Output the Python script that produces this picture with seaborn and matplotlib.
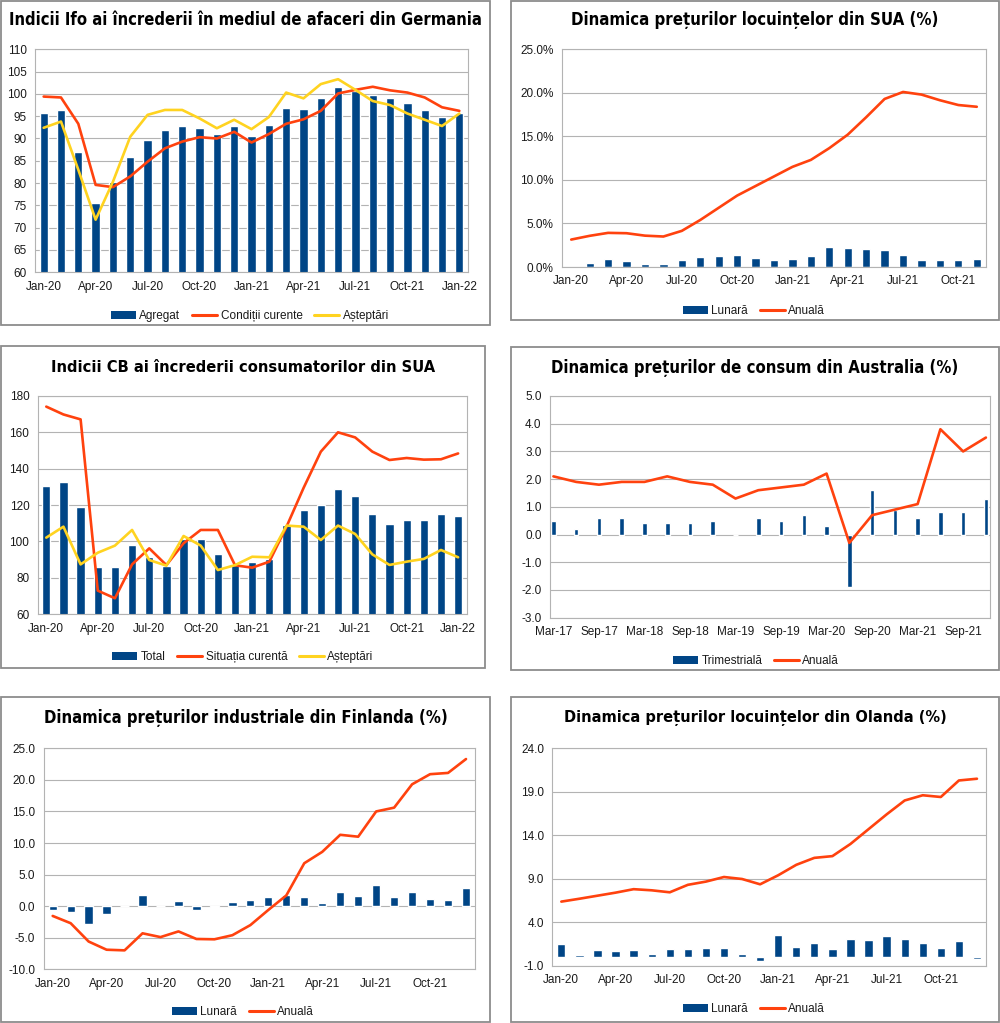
import numpy as np
import pandas as pd
import matplotlib
matplotlib.use("Agg")
import matplotlib.pyplot as plt
from matplotlib import font_manager as fm
from matplotlib.patches import Rectangle, Patch
from matplotlib.lines import Line2D
import seaborn as sns

# culorile implicite din LibreOffice
ALBASTRU = "#004586"
ROSU = "#ff420e"
GALBEN = "#ffd320"
GRI = "#b3b3b3"

# 1. Ifo Germania (Jan-20 .. Jan-22)
ifo_etichete = ["Jan-20", "Apr-20", "Jul-20", "Oct-20", "Jan-21", "Apr-21", "Jul-21", "Oct-21", "Jan-22"]
ifo_agregat = [95.8, 96.4, 86.9, 75.6, 80.2, 85.8, 89.6, 91.8, 92.7, 92.4, 90.9, 92.7,
               90.5, 93.1, 96.8, 96.7, 99.1, 101.6, 100.6, 99.7, 99.0, 97.9, 96.5, 94.8, 95.7]
ifo_conditii = [99.4, 99.2, 93.3, 79.6, 79.1, 81.5, 84.8, 87.8, 89.3, 90.3, 90.0, 91.5,
                89.1, 91.0, 93.3, 94.3, 96.2, 100.1, 100.9, 101.6, 100.8, 100.3, 99.2, 97.0, 96.2]
ifo_asteptari = [92.4, 93.8, 83.0, 71.8, 80.3, 90.4, 95.3, 96.4, 96.4, 94.5, 92.3, 94.2,
                 92.1, 94.8, 100.3, 99.0, 102.2, 103.3, 100.9, 98.4, 97.5, 95.6, 94.2, 92.8, 95.6]

# 2. Preturile locuintelor SUA (Jan-20 .. Nov-21)
sua_etichete = ["Jan-20", "Apr-20", "Jul-20", "Oct-20", "Jan-21", "Apr-21", "Jul-21", "Oct-21"]
sua_lunara = [np.nan, 0.46, 0.96, 0.73, 0.30, 0.30, 0.77, 1.15, 1.27, 1.35, 1.08, 0.85,
              0.88, 1.27, 2.27, 2.23, 2.10, 1.96, 1.42, 0.85, 0.80, 0.77, 0.96]
sua_anuala = [3.15, 3.58, 3.92, 3.88, 3.60, 3.50, 4.15, 5.40, 6.80, 8.20, 9.30, 10.40,
              11.50, 12.30, 13.65, 15.20, 17.20, 19.30, 20.10, 19.80, 19.15, 18.60, 18.40]

# 3. Conference Board SUA (Jan-20 .. Jan-22)
cb_etichete = ifo_etichete
cb_total = [130.4, 132.6, 118.8, 85.7, 85.9, 98.3, 91.7, 86.3, 101.3, 101.4, 92.9, 87.1,
            88.9, 90.4, 109.0, 117.5, 120.0, 128.9, 125.1, 115.2, 109.8, 111.6, 111.9, 115.2, 113.8]
cb_situatia = [174.0, 169.7, 167.0, 73.0, 68.8, 87.4, 96.2, 87.0, 99.0, 106.3, 106.3, 86.9,
               85.6, 88.9, 108.1, 129.5, 149.3, 159.9, 157.1, 149.3, 144.7, 145.8, 144.9, 145.1, 148.3]
cb_asteptari = [102.1, 108.1, 87.4, 93.8, 97.7, 106.3, 89.8, 86.7, 103.0, 97.7, 84.3, 87.0,
                91.6, 91.3, 108.7, 108.1, 100.8, 108.7, 104.1, 92.9, 87.1, 88.9, 90.4, 95.3, 91.3]

# 4. CPI Australia (Mar-17 .. Dec-21, trimestrial)
aus_etichete = ["Mar-17", "Sep-17", "Mar-18", "Sep-18", "Mar-19", "Sep-19", "Mar-20", "Sep-20", "Mar-21", "Sep-21"]
aus_trim = [0.5, 0.2, 0.6, 0.6, 0.4, 0.4, 0.4, 0.5, 0.0, 0.6,
            0.5, 0.7, 0.3, -1.9, 1.6, 0.9, 0.6, 0.8, 0.8, 1.3]
aus_anuala = [2.1, 1.9, 1.8, 1.9, 1.9, 2.1, 1.9, 1.8, 1.3, 1.6,
              1.7, 1.8, 2.2, -0.3, 0.7, 0.9, 1.1, 3.8, 3.0, 3.5]

# 5. Preturi industriale Finlanda (Jan-20 .. Dec-21)
fin_etichete = sua_etichete
fin_lunara = [-0.6, -1.0, -2.8, -1.3, 0.0, 1.8, 0.1, 0.8, -0.6, -0.1, 0.7, 1.0,
              1.4, 1.7, 1.4, 0.56, 2.3, 1.6, 3.4, 1.4, 2.3, 1.2, 0.93, 2.9]
fin_anuala = [-1.55, -2.7, -5.6, -6.9, -7.0, -4.3, -4.9, -4.0, -5.2, -5.25, -4.6, -3.0,
              -0.6, 1.7, 6.8, 8.6, 11.3, 11.0, 15.0, 15.6, 19.3, 20.9, 21.1, 23.3]

# 6. Preturile locuintelor Olanda (Jan-20 .. Dec-21)
nl_etichete = sua_etichete
nl_lunara = [1.46, 0.2, 0.77, 0.65, 0.77, 0.30, 0.88, 0.88, 1.0, 1.07, 0.30, -0.46,
             2.5, 1.2, 1.57, 0.92, 2.03, 1.92, 2.4, 2.1, 1.6, 1.0, 1.8, -0.27]
nl_anuala = [6.37, 6.7, 7.05, 7.4, 7.8, 7.67, 7.44, 8.3, 8.67, 9.2, 8.97, 8.36,
             9.4, 10.6, 11.4, 11.6, 13.0, 14.7, 16.4, 18.0, 18.6, 18.4, 20.3, 20.5]

W, H = 1000, 1023
sns.set_style("white")
plt.rcParams["font.family"] = ["Liberation Sans", "DejaVu Sans"]
plt.rcParams["text.color"] = "#111111"

# titlurile sunt intr-un font ingust; alegem ce e instalat
fonturi = fm.fontManager.ttflist
if any(f.name == "Liberation Sans Narrow" for f in fonturi):
    FONT_TITLU, STRETCH = "Liberation Sans Narrow", "normal"
elif any(f.name == "DejaVu Sans Condensed" for f in fonturi):
    FONT_TITLU, STRETCH = "DejaVu Sans Condensed", "normal"
elif any(f.name == "DejaVu Sans" and f.stretch == "condensed" for f in fonturi):
    FONT_TITLU, STRETCH = "DejaVu Sans", "condensed"
else:
    FONT_TITLU, STRETCH = "Liberation Sans", "normal"

fig = plt.figure(figsize=(W / 100, H / 100), dpi=100)
renderer = fig.canvas.get_renderer()


def fx(x):
    return x / W


def fy(y):
    return 1 - y / H


def panou(caseta, zona, titlu, y_titlu, latime_titlu):
    x0, y0, x1, y1 = caseta
    fig.add_artist(Rectangle((fx(x0), fy(y1)), fx(x1 - x0), (y1 - y0) / H,
                             transform=fig.transFigure, fill=False,
                             edgecolor="#8c8c8c", linewidth=1.3))
    t = fig.text(fx((x0 + x1) / 2), fy(y_titlu), titlu, ha="center", va="center",
                 fontsize=15.5, fontweight="bold", fontstretch=STRETCH, color="black",
                 family=[FONT_TITLU, "DejaVu Sans"])
    w = t.get_window_extent(renderer=renderer).width
    if w > latime_titlu:
        t.set_fontsize(15.5 * latime_titlu / w)
    l, t_, r, b = zona
    ax = fig.add_axes([fx(l), fy(b), fx(r - l), (b - t_) / H])
    return ax


def stil_axe(ax, n, etichete, pas, ylim, yticks, fmt, pe_diviziuni=False):
    if pe_diviziuni:
        ax.set_xlim(-0.15, n - 1 + 0.18)
    else:
        ax.set_xlim(-0.5, n - 0.5)
        ax.set_xticks(np.arange(-0.5, n, 1), minor=True)
    ax.set_xticks(np.arange(0, len(etichete) * pas, pas))
    ax.set_xticklabels(etichete)
    ax.set_ylim(*ylim)
    ax.set_yticks(yticks)
    ax.set_yticklabels([fmt.format(v) for v in yticks])
    ax.tick_params(axis="x", which="major", length=0, pad=6, labelsize=8.5, labelcolor="#1a1a1a")
    ax.tick_params(axis="x", which="minor", length=3, color=GRI, width=0.8)
    ax.tick_params(axis="y", length=3, color=GRI, width=0.8, pad=3, labelsize=8.5, labelcolor="#1a1a1a")
    ax.yaxis.grid(True, color=GRI, linewidth=0.8)
    ax.set_axisbelow(True)
    for s in ax.spines.values():
        s.set_color(GRI)
        s.set_linewidth(0.8)
    ax.set_xlabel("")
    ax.set_ylabel("")


def bare(ax, valori, latime):
    idx = np.arange(len(valori))
    sns.barplot(x=idx, y=valori, native_scale=True, color=ALBASTRU, saturation=1,
                width=latime, errorbar=None, ax=ax, zorder=2)


def linie(ax, valori, culoare):
    idx = np.arange(len(valori))
    sns.lineplot(x=idx, y=valori, color=culoare, linewidth=1.9, errorbar=None, ax=ax, zorder=3)


def legenda(nume, tipuri, x_c, y_c):
    handles = []
    for n, t in zip(nume, tipuri):
        if t == "bara":
            handles.append(Patch(facecolor=ALBASTRU, edgecolor="none", label=n))
        else:
            handles.append(Line2D([0], [0], color=t, linewidth=2.2, label=n))
    leg = fig.legend(handles=handles, loc="center", bbox_to_anchor=(fx(x_c), fy(y_c)),
                     ncol=len(handles), frameon=False, fontsize=8.5, handlelength=2.1,
                     handletextpad=0.3, columnspacing=1.0, borderaxespad=0)
    for txt in leg.get_texts():
        txt.set_color("#1a1a1a")


# 1
ax1 = panou((1, 1, 490, 325), (35, 49.3, 468, 272.3),
            "Indicii Ifo ai încrederii în mediul de afaceri din Germania", 20, 475)
bare(ax1, ifo_agregat, 0.48)
linie(ax1, ifo_conditii, ROSU)
linie(ax1, ifo_asteptari, GALBEN)
stil_axe(ax1, len(ifo_agregat), ifo_etichete, 3, (60, 110), np.arange(60, 111, 5), "{:.0f}")
legenda(["Agregat", "Condiții curente", "Așteptări"], ["bara", ROSU, GALBEN], 250, 316)

# 2
ax2 = panou((511, 1, 999, 320), (562, 49.3, 986, 267),
            "Dinamica prețurilor locuințelor din SUA (%)", 20, 368)
bare(ax2, sua_lunara, 0.45)
linie(ax2, sua_anuala, ROSU)
stil_axe(ax2, len(sua_anuala), sua_etichete, 3, (0, 25), np.arange(0, 26, 5), "{:.1f}%")
legenda(["Lunară", "Anuală"], ["bara", ROSU], 754, 311)

# 3
ax3 = panou((1, 346, 485, 668), (37.7, 395.7, 466.7, 614.3),
            "Indicii CB ai încrederii consumatorilor din SUA", 368, 385)
bare(ax3, cb_total, 0.48)
linie(ax3, cb_situatia, ROSU)
linie(ax3, cb_asteptari, GALBEN)
stil_axe(ax3, len(cb_total), cb_etichete, 3, (60, 180), np.arange(60, 181, 20), "{:.0f}")
legenda(["Total", "Situația curentă", "Așteptări"], ["bara", ROSU, GALBEN], 243, 657)

# 4
ax4 = panou((511, 347, 999, 670), (550, 396, 990, 617.7),
            "Dinamica prețurilor de consum din Australia (%)", 368, 407)
bare(ax4, aus_trim, 0.2)
linie(ax4, aus_anuala, ROSU)
stil_axe(ax4, len(aus_trim), aus_etichete, 2, (-3, 5), np.arange(-3, 5.1, 1), "{:.1f}",
         pe_diviziuni=True)
legenda(["Trimestrială", "Anuală"], ["bara", ROSU], 756, 661)

# 5
ax5 = panou((1, 697, 490, 1022), (43.7, 748.3, 475, 969.3),
            "Dinamica prețurilor industriale din Finlanda (%)", 718, 405)
bare(ax5, fin_lunara, 0.46)
linie(ax5, fin_anuala, ROSU)
stil_axe(ax5, len(fin_anuala), fin_etichete, 3, (-10, 25), np.arange(-10, 26, 5), "{:.1f}")
legenda(["Lunară", "Anuală"], ["bara", ROSU], 243, 1012)

# 6
ax6 = panou((511, 697, 999, 1022), (552.3, 748.3, 986, 965.7),
            "Dinamica prețurilor locuințelor din Olanda (%)", 718, 383)
bare(ax6, nl_lunara, 0.46)
linie(ax6, nl_anuala, ROSU)
stil_axe(ax6, len(nl_anuala), nl_etichete, 3, (-1, 24), np.arange(-1, 24.1, 5), "{:.1f}")
legenda(["Lunară", "Anuală"], ["bara", ROSU], 754, 1009)

fig.savefig("out.png", dpi=100)
